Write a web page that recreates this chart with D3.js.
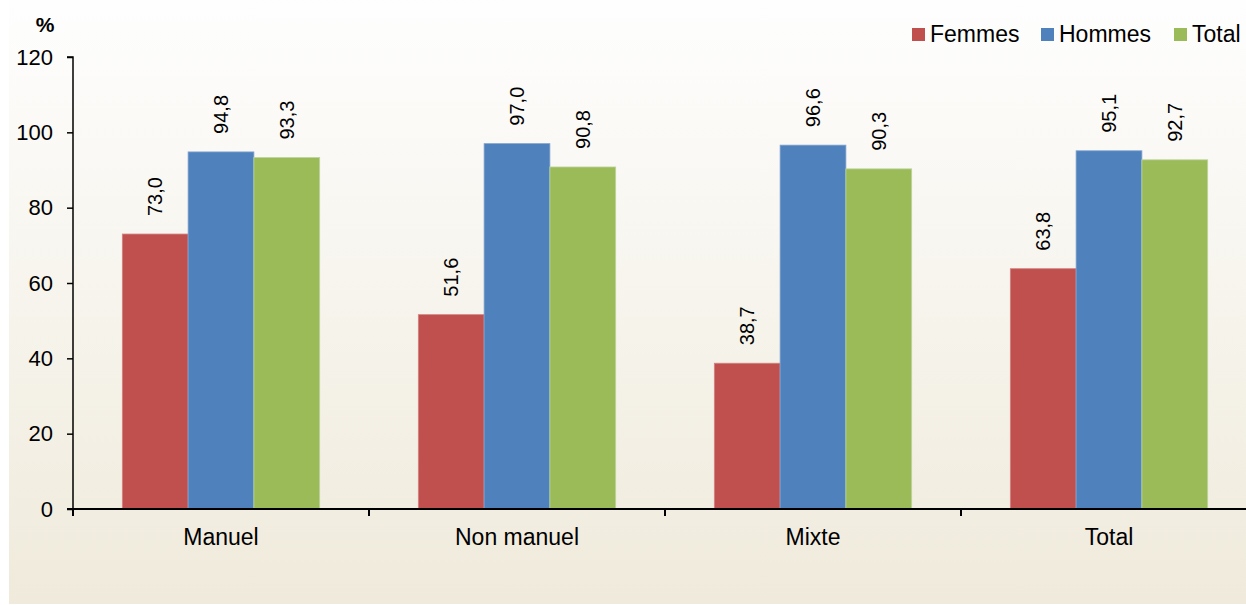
<!DOCTYPE html>
<html><head><meta charset="utf-8">
<script src="https://cdn.jsdelivr.net/npm/d3@7"></script>
<style>
body{margin:0;background:#fff;}
svg{display:block;font-family:"Liberation Sans",Arial,sans-serif;}
</style></head>
<body><svg id="c" width="1246" height="605"></svg>
<script>
const categories = ["Manuel", "Non manuel", "Mixte", "Total"];
const seriesNames = ["Femmes", "Hommes", "Total"];
const femmes = [73.0, 51.6, 38.7, 63.8];
const hommes = [94.8, 97.0, 96.6, 95.1];
const total = [93.3, 90.8, 90.3, 92.7];
const yTicks = [0, 20, 40, 60, 80, 100, 120];
const colors = ["#c0504d", "#4f81bd", "#9bbb59"];
const strokes = ["#d08482", "#7fa3d0", "#bcd49a"];

(function(){
const series = [femmes, hommes, total];
const svg = d3.select("#c");
const W = 1246, H = 605;

const defs = svg.append("defs");
const g = defs.append("linearGradient").attr("id","bg").attr("x1",0).attr("y1",0).attr("x2",0).attr("y2",1);
g.append("stop").attr("offset","0%").attr("stop-color","#fefefe");
g.append("stop").attr("offset","100%").attr("stop-color","#efeadb");
svg.append("rect").attr("x",9).attr("y",0).attr("width",W-9).attr("height",604).attr("fill","url(#bg)");

const pLeft = 73, pTop = 57, pBottom = 509;
const band = 296;
const x = d3.scaleBand().domain(categories).range([pLeft, pLeft + band*categories.length]).padding(0);
const y = d3.scaleLinear().domain([0,120]).range([pBottom, pTop]);
const barW = x.bandwidth()/4.5;
const xs = d3.scaleBand().domain(d3.range(3)).range([barW*0.75, barW*0.75 + barW*3]);

const groups = svg.append("g").selectAll("g").data(categories).join("g")
  .attr("transform", d => `translate(${x(d)},0)`);

groups.each(function(cat, ci){
  const gg = d3.select(this);
  series.forEach((s, si) => {
    const v = s[ci];
    gg.append("rect")
      .attr("x", xs(si)).attr("y", y(v))
      .attr("width", xs.bandwidth()).attr("height", y(0)-y(v))
      .attr("fill", colors[si]).attr("stroke", strokes[si]).attr("stroke-width", 0.8);
    const cx = xs(si) + xs.bandwidth()/2;
    const ty = y(v) - 18;
    gg.append("text")
      .attr("transform", `translate(${cx},${ty}) rotate(-90)`)
      .attr("dy","0.35em")
      .attr("text-anchor","start")
      .attr("font-size", 20)
      .attr("fill","#000")
      .text(d3.format(".1f")(v).replace(".", ","));
  });
});

// Y axis
const yAxis = d3.axisLeft(y).tickValues(yTicks).tickSize(6).tickPadding(14).tickFormat(d3.format("d"));
const ya = svg.append("g").attr("transform",`translate(${pLeft},0)`).call(yAxis);
ya.select(".domain").attr("stroke","#000").attr("stroke-width",1.5).attr("d",`M-6,${pTop}H0V${pBottom}`);
ya.selectAll(".tick line").attr("stroke","#000").attr("stroke-width",1.5);
ya.selectAll(".tick text").attr("font-size",22).attr("fill","#000").attr("font-family","Liberation Sans, Arial, sans-serif");

// X axis
const xAxis = d3.axisBottom(x).tickSize(0).tickPadding(15);
const xa = svg.append("g").attr("transform",`translate(0,${pBottom})`).call(xAxis);
xa.select(".domain").remove();
xa.selectAll(".tick text").attr("font-size",23).attr("fill","#000").attr("font-family","Liberation Sans, Arial, sans-serif").attr("dy","0.9em");
svg.append("line").attr("x1",pLeft-6).attr("x2",W).attr("y1",pBottom).attr("y2",pBottom).attr("stroke","#000").attr("stroke-width",2);
const bounds = categories.map(c => x(c)).concat([x(categories[categories.length-1]) + x.bandwidth()]);
svg.append("g").selectAll("line").data(bounds.filter(b => b < W)).join("line")
  .attr("x1", d=>d).attr("x2", d=>d).attr("y1", pBottom).attr("y2", pBottom+7)
  .attr("stroke","#000").attr("stroke-width",2);

// % label
svg.append("text").attr("x",45).attr("y",32).attr("text-anchor","middle")
  .attr("font-size",21).attr("font-weight","bold").text("%");

// Legend
const legendX = [912, 1041, 1174];
const leg = svg.append("g");
seriesNames.forEach((n, i) => {
  leg.append("rect").attr("x", legendX[i]).attr("y", 28).attr("width", 13).attr("height", 13).attr("fill", colors[i]);
  leg.append("text").attr("x", legendX[i] + 18).attr("y", 41.5).attr("font-size", 23).attr("fill","#000").text(n);
});
})();
</script></body></html>
